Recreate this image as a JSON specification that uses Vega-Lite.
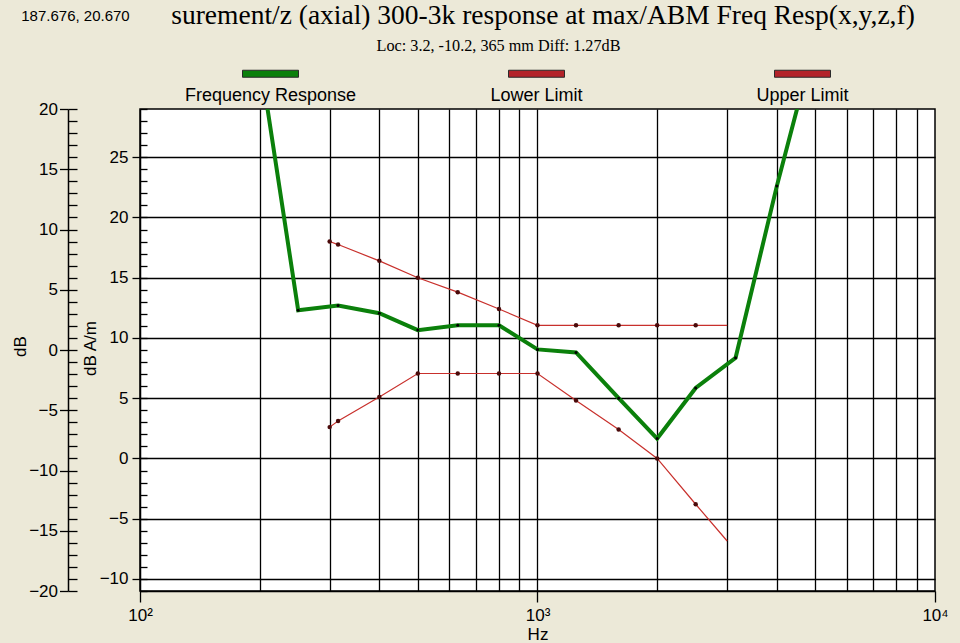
{
  "$schema": "https://vega.github.io/schema/vega-lite/v6.json",
  "width": 795,
  "height": 482,
  "autosize": {"type": "none"},
  "padding": {"left": 140, "top": 109, "right": 25, "bottom": 52},
  "background": "#ece9d8",
  "datasets": {
    "curves": [
      {"series": "Frequency Response", "f": 200, "v": 33.3},
      {"series": "Frequency Response", "f": 250, "v": 12.3},
      {"series": "Frequency Response", "f": 315, "v": 12.7},
      {"series": "Frequency Response", "f": 400, "v": 12.05},
      {"series": "Frequency Response", "f": 500, "v": 10.65},
      {"series": "Frequency Response", "f": 630, "v": 11.05},
      {"series": "Frequency Response", "f": 800, "v": 11.05},
      {"series": "Frequency Response", "f": 1000, "v": 9.05},
      {"series": "Frequency Response", "f": 1250, "v": 8.8},
      {"series": "Frequency Response", "f": 1600, "v": 5.0},
      {"series": "Frequency Response", "f": 2000, "v": 1.65},
      {"series": "Frequency Response", "f": 2500, "v": 5.85},
      {"series": "Frequency Response", "f": 3150, "v": 8.35},
      {"series": "Frequency Response", "f": 4000, "v": 22.6},
      {"series": "Frequency Response", "f": 5000, "v": 34.8},
      {"series": "Lower Limit", "f": 300, "v": 2.6},
      {"series": "Lower Limit", "f": 315, "v": 3.1},
      {"series": "Lower Limit", "f": 400, "v": 5.1},
      {"series": "Lower Limit", "f": 500, "v": 7.05},
      {"series": "Lower Limit", "f": 630, "v": 7.05},
      {"series": "Lower Limit", "f": 800, "v": 7.05},
      {"series": "Lower Limit", "f": 1000, "v": 7.05},
      {"series": "Lower Limit", "f": 1250, "v": 4.8},
      {"series": "Lower Limit", "f": 1600, "v": 2.4},
      {"series": "Lower Limit", "f": 2000, "v": 0.0},
      {"series": "Lower Limit", "f": 2500, "v": -3.8},
      {"series": "Lower Limit", "f": 3000, "v": -6.85},
      {"series": "Upper Limit", "f": 300, "v": 18.0},
      {"series": "Upper Limit", "f": 315, "v": 17.75},
      {"series": "Upper Limit", "f": 400, "v": 16.4},
      {"series": "Upper Limit", "f": 500, "v": 15.0},
      {"series": "Upper Limit", "f": 630, "v": 13.8},
      {"series": "Upper Limit", "f": 800, "v": 12.4},
      {"series": "Upper Limit", "f": 1000, "v": 11.05},
      {"series": "Upper Limit", "f": 1250, "v": 11.05},
      {"series": "Upper Limit", "f": 1600, "v": 11.05},
      {"series": "Upper Limit", "f": 2000, "v": 11.05},
      {"series": "Upper Limit", "f": 2500, "v": 11.05},
      {"series": "Upper Limit", "f": 3000, "v": 11.05}
    ]
  },
  "data": {"name": "curves"},
  "resolve": {
    "scale": {"x": "independent", "y": "independent"},
    "axis": {"x": "independent", "y": "independent"}
  },
  "layer": [
    {
      "encoding": {
        "x": {
          "field": "f", "type": "quantitative",
          "scale": {"type": "log", "domain": [100, 10000], "nice": false},
          "axis": {"orient": "bottom", "values": [200, 300, 400, 500, 600, 700, 800, 900, 1000, 2000, 3000, 4000, 5000, 6000, 7000, 8000, 9000], "grid": true, "ticks": false, "labels": false, "domain": false, "title": null}
        },
        "y": {
          "field": "v", "type": "quantitative",
          "scale": {"domain": [-11, 29], "nice": false, "zero": false},
          "axis": {"orient": "left", "values": [-10, -5, 0, 5, 10, 15, 20, 25], "grid": true, "tickSize": 8, "labelPadding": 4, "domain": true, "title": "dB A/m", "titleAngle": 270, "titleX": -50, "titleY": 239, "titleAlign": "center", "titleBaseline": "middle"}
        }
      },
      "layer": [
        {
          "transform": [{"filter": "datum.series === 'Frequency Response'"}],
          "mark": {"type": "line", "color": "#0b800b", "strokeWidth": 4, "clip": true}
        },
        {
          "transform": [{"filter": "datum.series !== 'Frequency Response'"}],
          "mark": {"type": "line", "color": "#c8302c", "strokeWidth": 1.2, "clip": true},
          "encoding": {"detail": {"field": "series"}}
        },
        {
          "transform": [{"filter": "datum.series === 'Frequency Response'"}],
          "mark": {"type": "point", "filled": true, "color": "#000000", "size": 9, "opacity": 1, "clip": true}
        },
        {
          "transform": [{"filter": "datum.series !== 'Frequency Response' && datum.f < 3000"}],
          "mark": {"type": "point", "filled": true, "color": "#4a0a0a", "size": 20, "opacity": 1, "clip": true}
        },
        {
          "mark": {"type": "point", "filled": true, "opacity": 0, "clip": true},
          "encoding": {
            "color": {
              "field": "series", "type": "nominal",
              "scale": {"domain": ["Frequency Response", "Lower Limit", "Upper Limit"], "range": ["#0b800b", "#b3232a", "#b3232a"]},
              "legend": {
                "orient": "none", "legendX": 116, "legendY": -37, "direction": "horizontal", "columns": 3,
                "title": null, "padding": 0,
                "symbolType": "M-7,0M7,0M-2,-1.179H2V-0.679H-2Z",
                "symbolSize": 784, "symbolStrokeWidth": 1, "symbolStrokeColor": "#2a2a2a", "symbolOpacity": 1,
                "labelAlign": "center", "labelBaseline": "top", "labelOffset": -14.5,
                "labelFont": "Liberation Sans", "labelFontSize": 18, "labelColor": "#000000", "labelLimit": 400,
                "gridAlign": "all", "columnPadding": 65
              }
            }
          }
        }
      ]
    },
    {
      "mark": {"type": "point", "opacity": 0, "clip": true},
      "encoding": {
        "x": {
          "field": "f", "type": "quantitative",
          "scale": {"type": "log", "domain": [100, 10000], "nice": false},
          "axis": {"orient": "bottom", "values": [100, 1000, 10000], "labelExpr": "datum.value == 100 ? '10²' : datum.value == 1000 ? '10³' : '10⁴'", "tickSize": 11, "labelPadding": 5, "grid": false, "domain": true, "title": "Hz", "titleX": 397.5, "titleY": 48, "titleAlign": "center", "titleBaseline": "alphabetic"}
        },
        "y": {
          "field": "v", "type": "quantitative",
          "scale": {"domain": [-11, 29], "nice": false, "zero": false},
          "axis": {"orient": "right", "offset": -795, "values": [-11,-10,-9,-8,-7,-6,-5,-4,-3,-2,-1,0,1,2,3,4,5,6,7,8,9,10,11,12,13,14,15,16,17,18,19,20,21,22,23,24,25,26,27,28,29], "tickSize": 7, "labels": false, "domain": false, "grid": false, "title": null}
        }
      }
    },
    {
      "mark": {"type": "point", "opacity": 0, "clip": true},
      "encoding": {
        "x": {
          "field": "f", "type": "quantitative",
          "scale": {"type": "log", "domain": [100, 10000], "nice": false},
          "axis": {"orient": "top", "ticks": false, "labels": false, "domain": false, "grid": false, "title": "187.676, 20.670", "titleFont": "Liberation Sans", "titleFontSize": 15, "titleX": -65, "titleY": -88.3, "titleAlign": "center", "titleBaseline": "alphabetic"}
        },
        "y": {
          "field": "v", "type": "quantitative",
          "scale": {"domain": [-20, 20], "nice": false, "zero": false},
          "axis": {"orient": "left", "offset": 72, "values": [-20, -15, -10, -5, 0, 5, 10, 15, 20], "tickSize": 8.5, "labelPadding": 2, "domain": true, "grid": false, "title": "dB", "titleAngle": 270, "titleX": -48, "titleY": 237, "titleAlign": "center", "titleBaseline": "middle"}
        }
      }
    },
    {
      "mark": {"type": "point", "opacity": 0, "clip": true},
      "encoding": {
        "x": {
          "field": "f", "type": "quantitative",
          "scale": {"type": "log", "domain": [100, 10000], "nice": false},
          "axis": {"orient": "top", "ticks": false, "labels": false, "domain": false, "grid": false, "title": "surement/z (axial) 300-3k response at max/ABM Freq Resp(x,y,z,f)", "titleFont": "Liberation Serif", "titleFontSize": 27.5, "titleX": 402.5, "titleY": -85.7, "titleAlign": "center", "titleBaseline": "alphabetic", "titleLimit": 1000}
        },
        "y": {
          "field": "v", "type": "quantitative",
          "scale": {"domain": [-20, 20], "nice": false, "zero": false},
          "axis": {"orient": "right", "offset": -867, "values": [-20,-19,-18,-17,-16,-15,-14,-13,-12,-11,-10,-9,-8,-7,-6,-5,-4,-3,-2,-1,0,1,2,3,4,5,6,7,8,9,10,11,12,13,14,15,16,17,18,19,20], "tickSize": 9, "labels": false, "domain": false, "grid": false, "title": null}
        }
      }
    },
    {
      "mark": {"type": "point", "opacity": 0, "clip": true},
      "encoding": {
        "x": {
          "field": "f", "type": "quantitative",
          "scale": {"type": "log", "domain": [100, 10000], "nice": false},
          "axis": {"orient": "top", "ticks": false, "labels": false, "domain": false, "grid": false, "title": "Loc: 3.2, -10.2, 365 mm Diff: 1.27dB", "titleFont": "Liberation Serif", "titleFontSize": 16.2, "titleX": 358, "titleY": -59, "titleAlign": "center", "titleBaseline": "alphabetic", "titleLimit": 1000}
        },
        "y": {
          "field": "v", "type": "quantitative",
          "scale": {"domain": [-20, 20], "nice": false, "zero": false},
          "axis": null
        }
      }
    }
  ],
  "config": {
    "view": {"stroke": "#000000", "strokeWidth": 1.5, "fill": "#ffffff"},
    "axis": {
      "labelFont": "Liberation Sans", "labelFontSize": 17, "labelColor": "#000000", "labelFlush": false,
      "titleFont": "Liberation Sans", "titleFontSize": 17, "titleFontWeight": "normal", "titleColor": "#000000",
      "tickColor": "#000000", "tickWidth": 1.3, "domainColor": "#000000", "domainWidth": 1.5,
      "gridColor": "#000000", "gridWidth": 1.3, "gridOpacity": 1
    }
  }
}
